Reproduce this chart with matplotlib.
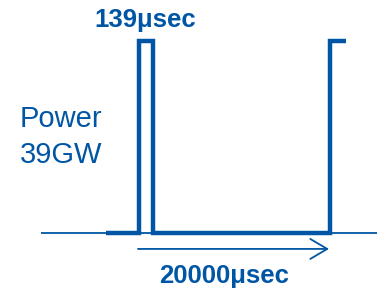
import matplotlib
matplotlib.use("Agg")
import matplotlib.pyplot as plt

# Pulse schematic (not to scale): x in drawing units, power level 0 = off, 1 = 39 GW
t_wave = [106, 138.5, 138.5, 153, 153, 329.5, 329.5, 346]
p_wave = [0, 0, 1, 1, 0, 0, 1, 1]

# thin time axis
t_axis = [41, 377]
p_axis = [0, 0]

# period arrow
arrow_start = 138
arrow_end = 329
arrow_level = -0.083

pulse_label = "139μsec"
period_label = "20000μsec"

blue = "#0056a4"

W, H = 380, 288
fig = plt.figure(figsize=(W / 100, H / 100), dpi=100)
ax = fig.add_axes([0, 0, 1, 1])
ax.set_xlim(0, W)
ax.set_ylim(-55 / 192, (H - 55) / 192)
ax.axis("off")

ax.plot(t_axis, p_axis, color=blue, lw=1.3, solid_capstyle="butt")
ax.plot(t_wave, p_wave, color=blue, lw=3.2, solid_joinstyle="miter", solid_capstyle="butt")

ax.annotate("", xy=(arrow_end, arrow_level), xytext=(arrow_start, arrow_level),
            arrowprops=dict(arrowstyle="->,head_length=1.22,head_width=0.72",
                            color=blue, lw=1.3, shrinkA=0, shrinkB=0))

# labels, placed in pixel fractions of the figure
def px(x, y):
    return x / W, 1 - y / H

fig.text(*px(94, 26.7), pulse_label, color=blue, fontsize=18.5, fontweight="bold",
         family="Liberation Sans", ha="left", va="baseline")
fig.text(*px(159, 283.3), period_label, color=blue, fontsize=18.5, fontweight="bold",
         family="Liberation Sans", ha="left", va="baseline")
fig.text(*px(19.5, 126.7), "Power", color=blue, fontsize=21,
         family="Liberation Sans", ha="left", va="baseline")
fig.text(*px(19.5, 163.3), "39GW", color=blue, fontsize=21,
         family="Liberation Sans", ha="left", va="baseline")

fig.savefig("out.png", dpi=100, facecolor="white")
